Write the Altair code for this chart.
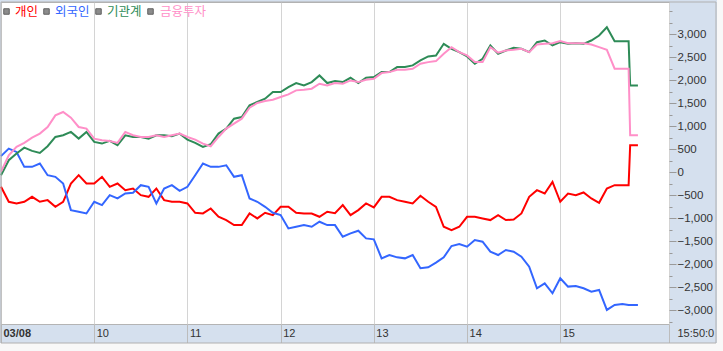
import altair as alt
import pandas as pd

# minutes since 09:00
times = list(range(0, 401, 5)) + [404, 405, 410]

individual = [  # 개인
    -318, -643, -680, -643, -535, -643, -607, -752, -643, -246,
    -65, -246, -246, -101, -318, -246, -390, -354, -499, -535,
    -354, -607, -643, -643, -680, -882, -897, -788, -969, -1041,
    -1150, -1150, -897, -1005, -882, -933, -752, -752, -882, -897,
    -897, -969, -860, -890, -716, -933, -824, -680, -766, -535,
    -535, -607, -643, -680, -513, -643, -752, -1186, -1258, -1186,
    -969, -969, -1005, -1041, -933, -1041, -1027, -897, -535, -390,
    -463, -210, -643, -463, -499, -441, -571, -665, -354, -282,
    -282,
    -282, 586, 586]

foreign = [  # 외국인
    350, 513, 441, 116, 116, 188, -65, -101, -246, -824,
    -860, -897, -643, -716, -499, -571, -463, -448, -282, -318,
    -680, -354, -282, -405, -318, -65, 188, 116, 116, 150,
    -101, -65, -571, -643, -752, -882, -933, -1222, -1186, -1150,
    -1186, -1077, -1150, -1150, -1403, -1330, -1272, -1439, -1460, -1873,
    -1800, -1851, -1873, -1800, -2089, -2068, -1967, -1851, -1605, -1562,
    -1620, -1475, -1511, -1728, -1800, -1692, -1728, -1836, -2053, -2523,
    -2415, -2632, -2306, -2487, -2473, -2523, -2596, -2559, -2993, -2885,
    -2863,
    -2885, -2885, -2885]

institution = [  # 기관계
    -65, 260, 405, 535, 463, 419, 564, 766, 803, 875,
    730, 875, 658, 622, 680, 586, 803, 766, 766, 730,
    803, 803, 781, 839, 709, 636, 549, 607, 839, 947,
    1164, 1200, 1453, 1526, 1598, 1742, 1742, 1851, 1938, 1887,
    1959, 2104, 1938, 1981, 1959, 2053, 1938, 2053, 2068, 2176,
    2176, 2285, 2285, 2321, 2429, 2516, 2538, 2791, 2682, 2610,
    2516, 2357, 2465, 2755, 2574, 2646, 2704, 2682, 2610, 2827,
    2863, 2755, 2827, 2791, 2805, 2791, 2863, 2971, 3150, 2849,
    2849,
    2849, 1887, 1887]

fin_invest = [  # 금융투자
    10, 369, 550, 636, 752, 839, 983, 1236, 1309, 1186,
    983, 947, 730, 694, 680, 636, 875, 803, 766, 766,
    803, 766, 803, 839, 766, 709, 622, 564, 766, 947,
    1056, 1164, 1403, 1504, 1547, 1576, 1634, 1692, 1779, 1793,
    1815, 1923, 1887, 1938, 1923, 1995, 1959, 2010, 2032, 2155,
    2176, 2227, 2227, 2249, 2357, 2393, 2415, 2574, 2718, 2610,
    2538, 2393, 2393, 2718, 2600, 2646, 2661, 2682, 2610, 2776,
    2791, 2805, 2849, 2805, 2805, 2805, 2776, 2718, 2661, 2249,
    2249,
    2249, 803, 803]

series_names = ["개인", "외국인", "기관계", "금융투자"]
series_values = [individual, foreign, institution, fin_invest]
series_colors = ["#ff0000", "#3366ff", "#2e8b57", "#ff8fc8"]

x_tick_values = [0, 60, 120, 180, 240, 300, 360, 430]
x_tick_labels = ["03/08", "10", "11", "12", "13", "14", "15", "15:50:0"]
y_tick_values = list(range(-3250, 3501, 250))

# ---- layout / style ----
W, H = 668, 322
BG_PANEL = "#d5e0ee"
OFFWHITE = "#f8f8f8"
BORDER = "#b0b0b0"

vals_js = "[" + ",".join(str(v) for v in x_tick_values) + "]"
labs_js = "[" + ",".join("'" + s + "'" for s in x_tick_labels) + "]"
x_label_expr = f"{labs_js}[indexof({vals_js}, datum.value)]"

x_enc = alt.X(
    "t:Q",
    scale=alt.Scale(domain=[0, 430], nice=False, zero=False),
    axis=alt.Axis(
        values=x_tick_values, labelExpr=x_label_expr, title=None,
        grid=True, gridColor="#d4d4d4", gridWidth=1,
        domain=False, ticks=True, tickSize=19, tickColor="#bcbcbc",
        labelPadding=-10, labelBaseline="middle", labelAlign="left",
        labelOffset={"condition": {"test": "datum.value >= 430", "value": 8}, "value": 2},
        labelFontWeight={"condition": {"test": "datum.value === 0", "value": "bold"}, "value": "normal"},
        labelFont="Liberation Sans", labelFontSize=11, labelColor="#333333",
        labelFlush=False, labelOverlap=False, labelBound=False,
    ),
)

y_enc = alt.Y(
    "v:Q",
    scale=alt.Scale(domain=[-3300, 3700], nice=False, zero=False),
    axis=alt.Axis(
        orient="right", values=y_tick_values, title=None, grid=False, domain=False,
        labelExpr="(datum.value % 500 === 0 && abs(datum.value) <= 3000) ? format(datum.value, ',') : ''",
        tickSize={"condition": {"test": "datum.value % 500 === 0 && abs(datum.value) <= 3000", "value": 7}, "value": 3},
        tickColor="#9a9a9a", labelPadding=1,
        labelFont="Liberation Sans", labelFontSize=11.5, labelColor="#333333",
        labelOverlap=False,
    ),
)

one = alt.Data(values=[{"a": 1}])

layers = []
# off-white outer strips
layers.append(alt.Chart(one).mark_rect(color=OFFWHITE).encode(
    x=alt.value(-2), x2=alt.value(723), y=alt.value(341), y2=alt.value(350)))
layers.append(alt.Chart(one).mark_rect(color=OFFWHITE).encode(
    x=alt.value(716), x2=alt.value(723), y=alt.value(-3), y2=alt.value(350)))

for name, vals, col in zip(series_names, series_values, series_colors):
    df = pd.DataFrame({"t": times, "v": vals, "s": name})
    layers.append(
        alt.Chart(df).mark_line(color=col, strokeWidth=2).encode(x=x_enc, y=y_enc)
    )

# frame
layers.append(alt.Chart(one).mark_rect(fill="transparent", stroke=BORDER, strokeWidth=1).encode(
    x=alt.value(0), x2=alt.value(715), y=alt.value(0), y2=alt.value(341)))

# legend
sq_x = [5.5, 45.5, 97.5, 149.5]
tx_x = [14, 54, 106, 159]
for i, (name, col) in enumerate(zip(series_names, series_colors)):
    layers.append(alt.Chart(one).mark_square(size=30, fill="#8c8c8c", stroke="#606060",
                                             strokeWidth=1, opacity=1).encode(
        x=alt.value(sq_x[i]), y=alt.value(9.5)))
    layers.append(alt.Chart(one).mark_text(text=name, color=col, align="left", baseline="middle",
                                           font="Noto Sans CJK KR", fontSize=12.5).encode(
        x=alt.value(tx_x[i]), y=alt.value(9.5)))

chart = alt.layer(*layers).properties(
    width=W, height=H,
    padding={"left": 1, "top": 2, "right": 54, "bottom": 27},
    autosize=alt.AutoSizeParams(type="none"),
    background=BG_PANEL,
).configure_view(stroke="#b4b4b4", fill="white")

chart.save("out.html", embed_options={"renderer": "svg", "actions": False})
